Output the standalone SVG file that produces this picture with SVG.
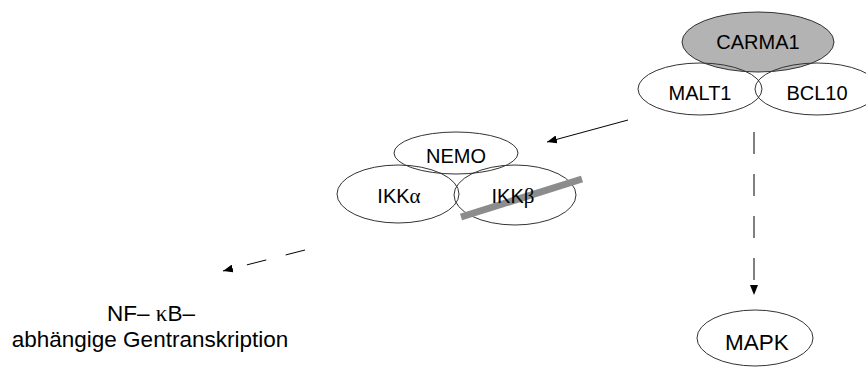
<svg xmlns="http://www.w3.org/2000/svg" width="866" height="369" viewBox="0 0 866 369">
<style>
.n{fill:none;stroke:#333;stroke-width:1}
.t{font-family:"Liberation Sans",Arial,sans-serif;font-size:20px;fill:#000;text-anchor:middle}
.g{font-family:"Liberation Serif","Times New Roman",serif;font-size:21px}
.b{font-size:22.5px}
.c{stroke:#000;stroke-width:1;fill:none}
.d{stroke-dasharray:20 20}
</style>
<defs>
<marker id="ah" markerWidth="10" markerHeight="8" refX="10" refY="4" orient="auto" markerUnits="userSpaceOnUse">
<path d="M0,0 L10,4 L0,8 Z" fill="#000"/>
</marker>
</defs>
<rect width="866" height="369" fill="#fff"/>
<g id="carma1">
<ellipse cx="758" cy="42" rx="76" ry="30" fill="#b3b3b3" stroke="#333"/>
<text class="t" x="758" y="49">CARMA1</text>
</g>
<g id="malt1">
<ellipse class="n" cx="700" cy="89" rx="62" ry="26"/>
<text class="t" x="700" y="100">MALT1</text>
</g>
<g id="bcl10">
<ellipse class="n" cx="817" cy="89" rx="62" ry="26"/>
<text class="t" x="817" y="100">BCL10</text>
</g>
<g id="nemo">
<ellipse class="n" cx="456" cy="153" rx="62" ry="21"/>
<text class="t" x="456" y="163">NEMO</text>
</g>
<g id="ikka">
<ellipse class="n" cx="398" cy="194" rx="61" ry="29"/>
<text class="t" x="399" y="203">IKK<tspan class="g">α</tspan></text>
</g>
<g id="ikkb">
<ellipse class="n" cx="515" cy="195" rx="61" ry="30"/>
<line x1="461" y1="217" x2="582" y2="179" stroke="#8c8c8c" stroke-width="7"/>
<text class="t" x="513" y="203">IKK<tspan class="g">β</tspan></text>
</g>
<g id="mapk">
<ellipse class="n" cx="755" cy="338" rx="58" ry="28"/>
<text class="t b" x="757" y="350">MAPK</text>
</g>
<g id="nfkb">
<text class="t b" x="151" y="321">NF– <tspan class="g" style="font-size:23px">κ</tspan>B–</text>
<text class="t b" x="150" y="347">abhängige Gentranskription</text>
</g>
<g id="connectors">
<line class="c" x1="628" y1="120" x2="547" y2="142" marker-end="url(#ah)"/>
<line class="c d" x1="305" y1="250" x2="223" y2="271" marker-end="url(#ah)"/>
<line class="c" x1="754" y1="132" x2="754" y2="295" stroke-dasharray="22 20" marker-end="url(#ah)"/>
</g>
</svg>
